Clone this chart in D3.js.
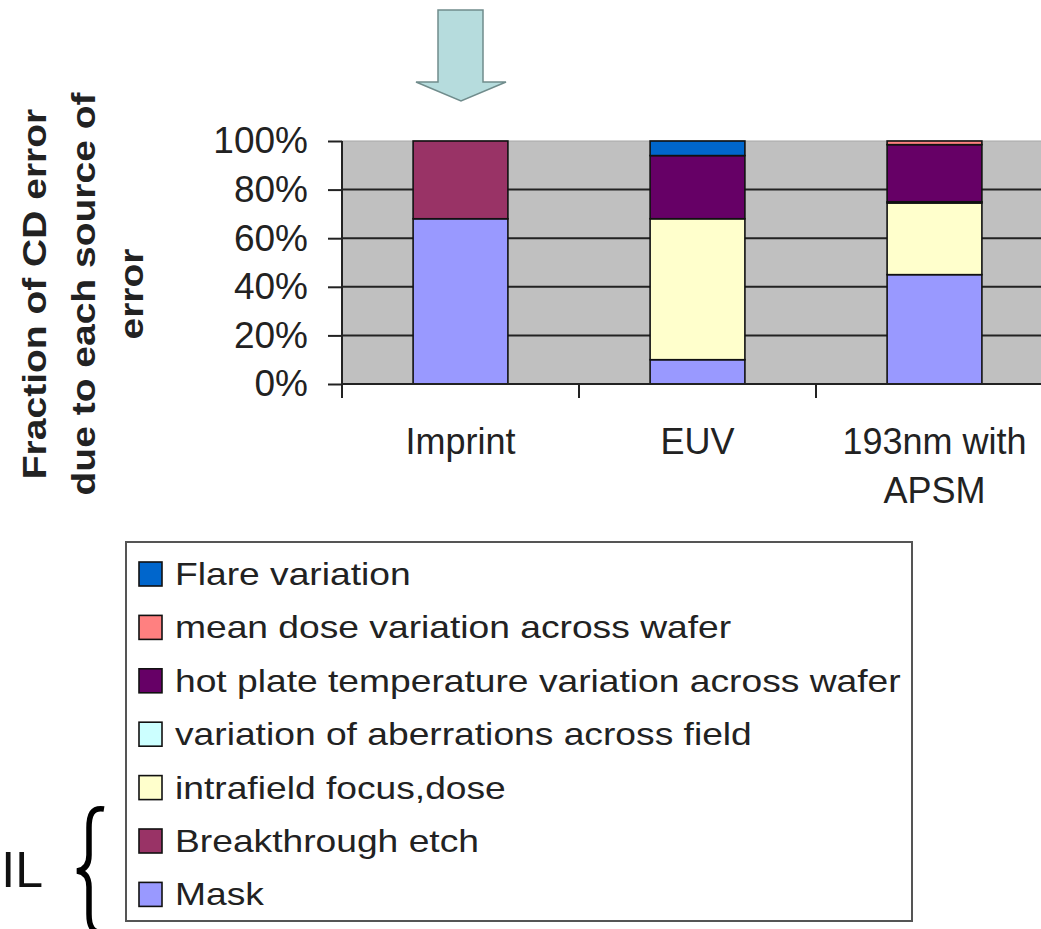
<!DOCTYPE html>
<html><head><meta charset="utf-8">
<script src="https://cdn.jsdelivr.net/npm/d3@7"></script>
<style>html,body{margin:0;padding:0;background:#fff;}svg{display:block;}</style>
</head><body>
<svg id="chart" width="1041" height="929"></svg>
<script>
// ---- data ----
const categories = ["Imprint", "EUV", "193nm with APSM"];
const categoryLines = [["Imprint"], ["EUV"], ["193nm with", "APSM"]];
const seriesNames = [
  "Mask",
  "Breakthrough etch",
  "intrafield focus,dose",
  "variation of aberrations across field",
  "hot plate temperature variation across wafer",
  "mean dose variation across wafer",
  "Flare variation"
];
const mask          = [68, 10, 45];
const breakthrough  = [32, 0, 0];
const intrafield    = [0, 58, 29.5];
const aberrations   = [0, 0, 0.5];
const hotPlate      = [0, 26, 23.5];
const meanDose      = [0, 0, 1.5];
const flare         = [0, 6, 0];
const seriesColors = ["#9999ff", "#993366", "#ffffcc", "#ccffff", "#660066", "#ff8080", "#0066cc"];
const yTicks = [0, 0.2, 0.4, 0.6, 0.8, 1.0];
const yTitleLines = ["Fraction of CD error", "due to each source of", "error"];
const bracketLabel = "IL";

// ---- build table ----
const seriesValues = [mask, breakthrough, intrafield, aberrations, hotPlate, meanDose, flare];
const table = categories.map((c, i) => {
  const row = {cat: c};
  seriesNames.forEach((s, j) => row[s] = seriesValues[j][i]);
  return row;
});
const stacked = d3.stack().keys(seriesNames).offset(d3.stackOffsetExpand)(table);

const svg = d3.select("#chart");
const FONT = "'Liberation Sans', Arial, sans-serif";

// ---- scales ----
const plotLeft = 342, plotTop = 141, plotBottom = 384, step = 237;
const x = d3.scaleBand().domain(categories)
  .range([plotLeft, plotLeft + step * 3]).paddingInner(0.6).paddingOuter(0.3);
const y = d3.scaleLinear().domain([0, 1]).range([plotBottom, plotTop]);
const color = d3.scaleOrdinal().domain(seriesNames).range(seriesColors);

// ---- plot area ----
svg.append("rect").attr("x", plotLeft).attr("y", plotTop)
  .attr("width", step * 3).attr("height", plotBottom - plotTop)
  .attr("fill", "#c0c0c0").attr("stroke", "#a8a8a8").attr("stroke-width", 1);

// gridlines
svg.append("g").selectAll("line").data(yTicks.filter(t => t > 0 && t < 1)).join("line")
  .attr("x1", plotLeft).attr("x2", plotLeft + step * 3)
  .attr("y1", d => y(d)).attr("y2", d => y(d))
  .attr("stroke", "#222").attr("stroke-width", 2);

// bars
svg.append("g").selectAll("g").data(stacked).join("g")
  .attr("fill", d => color(d.key))
  .selectAll("rect").data(d => d.filter(s => s[1] - s[0] > 0)).join("rect")
  .attr("x", d => x(d.data.cat))
  .attr("width", x.bandwidth())
  .attr("y", d => y(d[1]))
  .attr("height", d => y(d[0]) - y(d[1]))
  .attr("stroke", "#111").attr("stroke-width", 1.6);

// y axis
const yAxis = svg.append("g").attr("transform", `translate(${plotLeft},0)`)
  .call(d3.axisLeft(y).tickValues(yTicks).tickFormat(d3.format(".0%")).tickSize(14).tickPadding(20));
yAxis.select(".domain").attr("stroke", "#222").attr("stroke-width", 2)
  .attr("d", `M0,${plotTop}V${plotBottom + 14}`);
yAxis.selectAll(".tick line").attr("stroke", "#222").attr("stroke-width", 2);
yAxis.selectAll(".tick text").attr("font-family", FONT).attr("font-size", 37)
  .attr("fill", "#222").attr("dy", "0.32em");

// x axis
const xAxis = svg.append("g");
xAxis.append("line").attr("x1", plotLeft).attr("x2", plotLeft + step * 3)
  .attr("y1", plotBottom).attr("y2", plotBottom).attr("stroke", "#222").attr("stroke-width", 2);
xAxis.selectAll("line.tk").data(categories).join("line").attr("class", "tk")
  .attr("x1", d => x(d) + x.bandwidth() + (x.step() - x.bandwidth()) / 2)
  .attr("x2", d => x(d) + x.bandwidth() + (x.step() - x.bandwidth()) / 2)
  .attr("y1", plotBottom).attr("y2", plotBottom + 14)
  .attr("stroke", "#222").attr("stroke-width", 2);
const catText = xAxis.selectAll("text").data(categories).join("text")
  .attr("transform", d => `translate(${x(d) + x.bandwidth() / 2},454)`)
  .attr("text-anchor", "middle").attr("font-family", FONT).attr("font-size", 36).attr("fill", "#222");
catText.each(function(d, i) {
  d3.select(this).selectAll("tspan").data(categoryLines[i]).join("tspan")
    .attr("x", 0).attr("y", (l, k) => k * 49).text(l => l);
});

// y title
svg.append("text")
  .attr("transform", "translate(46,294) rotate(-90) scale(1,0.86)")
  .attr("text-anchor", "middle").attr("font-family", FONT).attr("font-weight", "bold")
  .attr("font-size", 39).attr("fill", "#222")
  .selectAll("tspan").data(yTitleLines).join("tspan")
  .attr("x", 0).attr("y", (d, i) => i * 56.5).text(d => d);

// arrow
svg.append("path")
  .attr("d", "M438,10 L483,10 L483,82 L506,82 L461,101 L416,82 L438,82 Z")
  .attr("fill", "#b6dcdd").attr("stroke", "#708c8c").attr("stroke-width", 1.5);

// legend
const legend = svg.append("g");
legend.append("rect").attr("x", 126).attr("y", 542).attr("width", 786).attr("height", 379)
  .attr("fill", "#fff").attr("stroke", "#555").attr("stroke-width", 2);
const legendOrder = seriesNames.slice().reverse();
const rows = legend.selectAll("g.row").data(legendOrder).join("g").attr("class", "row")
  .attr("transform", (d, i) => `translate(139,${562 + i * 53.4})`);
rows.append("rect").attr("width", 23).attr("height", 24)
  .attr("fill", d => color(d)).attr("stroke", "#111").attr("stroke-width", 1.6);
rows.append("text").attr("transform", "translate(36,23) scale(1.2,1)")
  .attr("font-family", FONT).attr("font-size", 31).attr("fill", "#222").text(d => d);

// bracket + label
svg.append("path")
  .attr("d", "M104,809 C92,807 89,815 89,828 L89,855 C89,865 85,870 77,871 C85,872 89,877 89,887 L89,914 C89,926 92,933 104,933")
  .attr("fill", "none").attr("stroke", "#000").attr("stroke-width", 5.5);
svg.append("text").attr("x", 43).attr("y", 887).attr("text-anchor", "end")
  .attr("font-family", FONT).attr("font-size", 50).attr("fill", "#111").text(bracketLabel);
</script>
</body></html>
